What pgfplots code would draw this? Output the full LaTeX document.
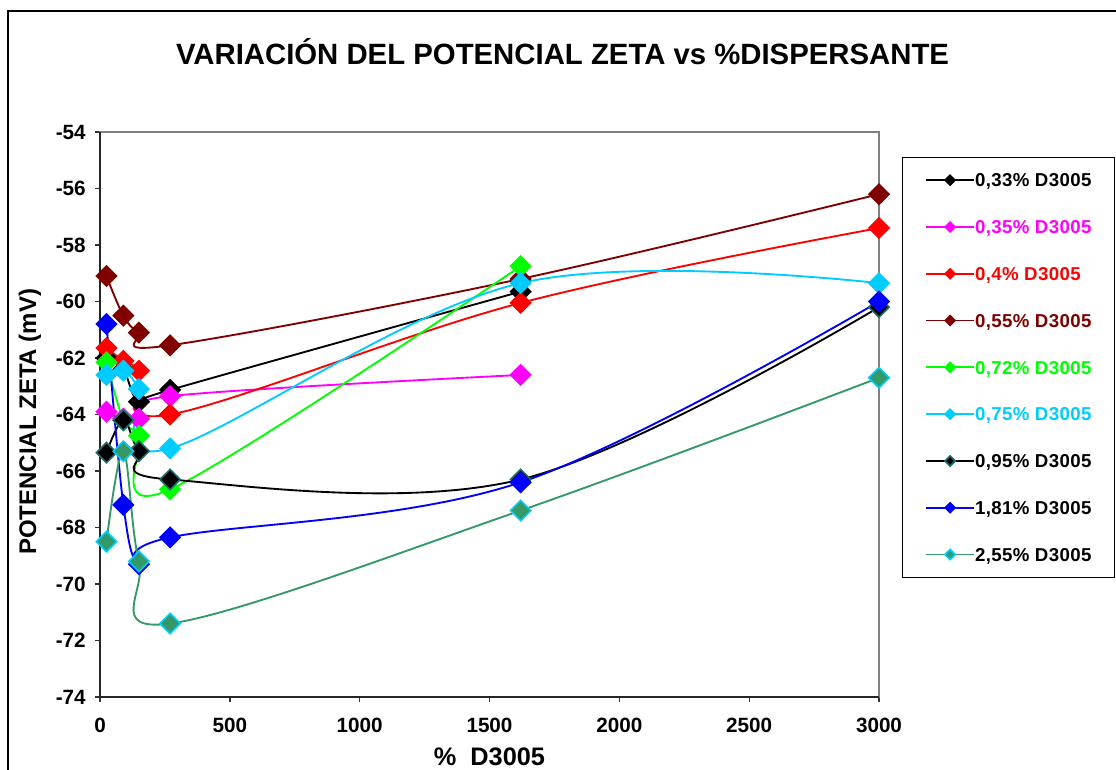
\documentclass[border=0pt]{standalone}
\usepackage{pgfplots}
\pgfplotsset{compat=1.18}
\usepackage{fontspec}
\setmainfont{Liberation Sans}
\definecolor{cBrown}{HTML}{800000}
\definecolor{cRed}{HTML}{FF0000}
\definecolor{cMag}{HTML}{FF00FF}
\definecolor{cGreen}{HTML}{00FF00}
\definecolor{cCyan}{HTML}{00CCFF}
\definecolor{cBlue}{HTML}{0000FF}
\definecolor{cTeal}{HTML}{1E6B6B}
\definecolor{cSea}{HTML}{339966}
\begin{document}
\begin{tikzpicture}
\useasboundingbox (0,0) rectangle (837pt,576.75pt);
\fill[white] (0,0) rectangle (837pt,576.75pt);
\draw[line width=1pt] (6pt,-3pt) -- (6pt,568.5pt) -- (845pt,568.5pt);
\node[font=\bfseries\fontsize{22}{26}\selectfont] at (421.9pt,538pt) {VARIACIÓN DEL POTENCIAL ZETA vs \%DISPERSANTE};
\begin{axis}[
  at={(75pt,54pt)}, anchor=south west, scale only axis,
  width=584.25pt, height=423.75pt,
  xmin=0, xmax=3000, ymin=-74, ymax=-54,
  xtick={0,500,...,3000}, ytick={-74,-72,...,-54},
  tick align=outside, xtick pos=bottom, ytick pos=left,
  major tick length=3.75pt,
  axis line style={draw=black!50, line width=0.9pt},
  tick style={black!80, line width=1pt},
  ticklabel style={font=\bfseries\fontsize{15.5}{18}\selectfont},
  xticklabel style={yshift=-8.5pt},
  yticklabel style={xshift=-3.5pt},
  /pgf/number format/assume math mode=true,
  /pgf/number format/1000 sep={},
  xlabel={\%\hspace{0.55em}D3005},
  xlabel style={at={(axis description cs:0.5,-0.106)}, anchor=center, font=\bfseries\fontsize{19}{22}\selectfont},
  ylabel={POTENCIAL ZETA (mV)},
  ylabel style={at={(axis description cs:-0.0899,0.487)}, anchor=center, font=\bfseries\fontsize{18}{21}\selectfont},
  clip=false,
  every axis plot/.append style={smooth, tension=0.6, line width=1.4pt, mark=square*, mark size=5.4pt},
  legend image code/.code={\draw[line width=1.4pt, mark repeat=2, mark phase=2, mark size=2.7pt] plot coordinates {(0pt,0pt) (18pt,0pt) (36pt,0pt)};},
  legend style={at={(axis description cs:1.0295,0.9558)}, anchor=north west, draw=black, line width=0.75pt,
     font=\bfseries\fontsize{14}{16}\selectfont\addfontfeature{LetterSpace=2}, inner xsep=17pt, inner ysep=12pt, row sep=25.1pt,
     nodes={inner sep=0pt, text height=10pt, text depth=0pt}},
  legend cell align=left,
]
\draw[black!85, line width=1.3pt] (rel axis cs:0,1) -- (rel axis cs:0,0) -- (rel axis cs:1,0);
\addplot[color=black, mark options={rotate=45, fill=black, draw=black, line width=1pt}] coordinates {(25,-62.0) (90,-62.4) (150,-63.55) (270,-63.13) (1620,-59.65)};
\addlegendentry{0,33\% D3005}
\addplot[color=cMag, mark options={rotate=45, fill=cMag, draw=cMag, line width=1pt}] coordinates {(25,-63.9) (90,-64.15) (150,-64.15) (270,-63.35) (1620,-62.6)};
\addlegendentry{\textcolor{cMag}{0,35\% D3005}}
\addplot[color=cRed, mark options={rotate=45, fill=cRed, draw=cRed, line width=1pt}] coordinates {(25,-61.65) (90,-62.1) (150,-62.45) (270,-64.0) (1620,-60.05) (3000,-57.4)};
\addlegendentry{\textcolor{cRed}{0,4\% D3005}}
\addplot[color=cBrown, mark options={rotate=45, fill=cBrown, draw=cBrown, line width=1pt}] coordinates {(25,-59.1) (90,-60.5) (150,-61.1) (270,-61.55) (1620,-59.2) (3000,-56.2)};
\addlegendentry{\textcolor{cBrown}{0,55\% D3005}}
\addplot[color=cGreen, mark options={rotate=45, fill=cGreen, draw=cGreen, line width=1pt}] coordinates {(25,-62.15) (90,-64.2) (150,-64.75) (270,-66.65) (1620,-58.75)};
\addlegendentry{\textcolor{cGreen}{0,72\% D3005}}
\addplot[color=cCyan, mark options={rotate=45, fill=cCyan, draw=cCyan, line width=1pt}] coordinates {(25,-62.6) (90,-62.45) (150,-63.1) (270,-65.2) (1620,-59.35) (3000,-59.35)};
\addlegendentry{\textcolor{cCyan}{0,75\% D3005}}
\addplot[color=black, mark options={rotate=45, fill=black, draw=cTeal, line width=1.2pt}] coordinates {(25,-65.35) (90,-64.2) (150,-65.3) (270,-66.3) (1620,-66.3) (3000,-60.2)};
\addlegendentry{0,95\% D3005}
\addplot[color=cBlue, mark options={rotate=45, fill=cBlue, draw=cBlue, line width=1pt}] coordinates {(25,-60.8) (90,-67.2) (150,-69.3) (270,-68.35) (1620,-66.4) (3000,-60.0)};
\addlegendentry{1,81\% D3005}
\addplot[color=cSea, mark options={rotate=45, fill=cSea, draw=cCyan, line width=1.2pt}] coordinates {(25,-68.5) (90,-65.3) (150,-69.2) (270,-71.4) (1620,-67.4) (3000,-62.7)};
\addlegendentry{2,55\% D3005}
\end{axis}
\end{tikzpicture}
\end{document}
